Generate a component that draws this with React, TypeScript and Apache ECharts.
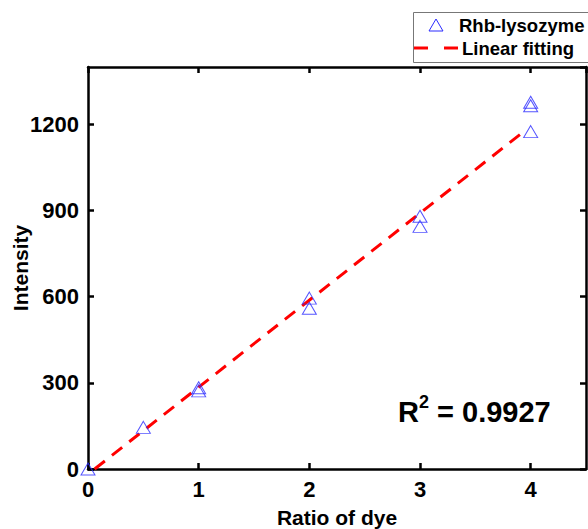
import React, { useEffect, useRef } from "react";
import * as echarts from "echarts";

// Measured dye ratios and fluorescence intensities (replicates share an x value)
const ratioValues = [0, 0.5, 1, 1, 2, 2, 3, 3, 4, 4, 4];
const intensityValues = [0, 145, 283, 272, 595, 560, 880, 845, 1277, 1265, 1175];

// Endpoints of the linear fitting line
const fitRatio = [0.06, 3.96];
const fitIntensity = [0, 1182];

const xTicks = [0, 1, 2, 3, 4];
const yTicks = [0, 300, 600, 900, 1200];

const seriesNames = ["Rhb-lysozyme", "Linear fitting"];
const rSquaredText = "0.9927";

const FONT = "'Liberation Sans', Arial, sans-serif";
const MARKER_BLUE = "#2b2bff";
const FIT_RED = "#ff0000";

export default function App() {
  const ref = useRef<HTMLDivElement>(null);

  useEffect(() => {
    if (!ref.current) return;
    const chart = echarts.init(ref.current, null, { renderer: "svg" });

    const points = ratioValues.map((x, i) => [x, intensityValues[i]]);
    const fitLine = fitRatio.map((x, i) => [x, fitIntensity[i]]);

    const frameLine = { show: true, onZero: false, lineStyle: { color: "#000", width: 2.5 } };
    const innerTick = { show: true, inside: true, length: 6, lineStyle: { color: "#000", width: 2.5 } };
    const tickLabel = {
      color: "#000",
      fontFamily: FONT,
      fontWeight: "bold" as const,
      fontSize: 22,
      margin: 9,
      showMaxLabel: false,
    };
    const titleStyle = { color: "#000", fontFamily: FONT, fontWeight: "bold" as const, fontSize: 21 };
    const legendText = { fontFamily: FONT, fontWeight: "bold", fontSize: 18.5, fill: "#000" };

    chart.setOption({
      animation: false,
      backgroundColor: "#fff",
      grid: { left: 88, top: 67, width: 498, height: 402, outerBoundsMode: "none", containLabel: false },
      xAxis: [
        {
          type: "value",
          min: 0,
          max: 4.5,
          interval: 1,
          name: "Ratio of dye",
          nameLocation: "middle",
          nameGap: 38,
          nameMoveOverlap: false,
          nameTextStyle: titleStyle,
          axisLine: frameLine,
          axisTick: innerTick,
          axisLabel: {
            ...tickLabel,
            formatter: (v: number) => (xTicks.includes(v) ? String(v) : ""),
          },
          splitLine: { show: false },
        },
        {
          type: "value",
          position: "top",
          min: 0,
          max: 4.5,
          interval: 1,
          axisLine: frameLine,
          axisTick: innerTick,
          axisLabel: { show: false },
          splitLine: { show: false },
        },
      ],
      yAxis: [
        {
          type: "value",
          min: 0,
          max: 1400,
          interval: 300,
          name: "Intensity",
          nameLocation: "middle",
          nameGap: 57,
          nameMoveOverlap: false,
          nameTextStyle: titleStyle,
          axisLine: frameLine,
          axisTick: innerTick,
          axisLabel: {
            ...tickLabel,
            formatter: (v: number) => (yTicks.includes(v) ? String(v) : ""),
          },
          splitLine: { show: false },
        },
        {
          type: "value",
          position: "right",
          min: 0,
          max: 1400,
          interval: 300,
          axisLine: frameLine,
          axisTick: innerTick,
          axisLabel: { show: false },
          splitLine: { show: false },
        },
      ],
      series: [
        {
          name: seriesNames[1],
          type: "line",
          data: fitLine,
          symbol: "none",
          z: 2,
          lineStyle: { color: FIT_RED, width: 3, type: [13, 9] },
        },
        {
          name: seriesNames[0],
          type: "scatter",
          data: points,
          symbol: "triangle",
          symbolSize: [14, 12],
          z: 3,
          itemStyle: { color: "rgba(0,0,0,0)", borderColor: MARKER_BLUE, borderWidth: 1 },
        },
      ],
      graphic: [
        // Legend box
        {
          type: "rect",
          shape: { x: 413.5, y: 12.5, width: 200, height: 50 },
          style: { fill: "#fff", stroke: "#777", lineWidth: 1 },
          z: 10,
        },
        {
          type: "polygon",
          shape: { points: [[436, 19], [443, 31], [429, 31]] },
          style: { fill: "none", stroke: MARKER_BLUE, lineWidth: 1 },
          z: 11,
        },
        {
          type: "text",
          x: 459,
          y: 25,
          style: { ...legendText, text: seriesNames[0], verticalAlign: "middle" },
          z: 11,
        },
        {
          type: "line",
          shape: { x1: 414, y1: 48, x2: 428, y2: 48 },
          style: { stroke: FIT_RED, lineWidth: 3 },
          z: 11,
        },
        {
          type: "line",
          shape: { x1: 444, y1: 48, x2: 458, y2: 48 },
          style: { stroke: FIT_RED, lineWidth: 3 },
          z: 11,
        },
        {
          type: "text",
          x: 462,
          y: 48,
          style: { ...legendText, text: seriesNames[1], verticalAlign: "middle" },
          z: 11,
        },
        // Goodness of fit
        {
          type: "text",
          left: 398,
          top: 393,
          style: {
            text: "{a|R}{b|2}{a| = " + rSquaredText + "}",
            rich: {
              a: { fontFamily: FONT, fontWeight: "bold", fontSize: 29, lineHeight: 33, fill: "#000", verticalAlign: "bottom" },
              b: { fontFamily: FONT, fontWeight: "bold", fontSize: 18, lineHeight: 33, fill: "#000", verticalAlign: "top" },
            },
          },
        },
      ],
    });

    return () => chart.dispose();
  }, []);

  return (
    <div
      ref={ref}
      style={{ position: "absolute", left: 0, top: 0, width: 588, height: 529 }}
    />
  );
}
